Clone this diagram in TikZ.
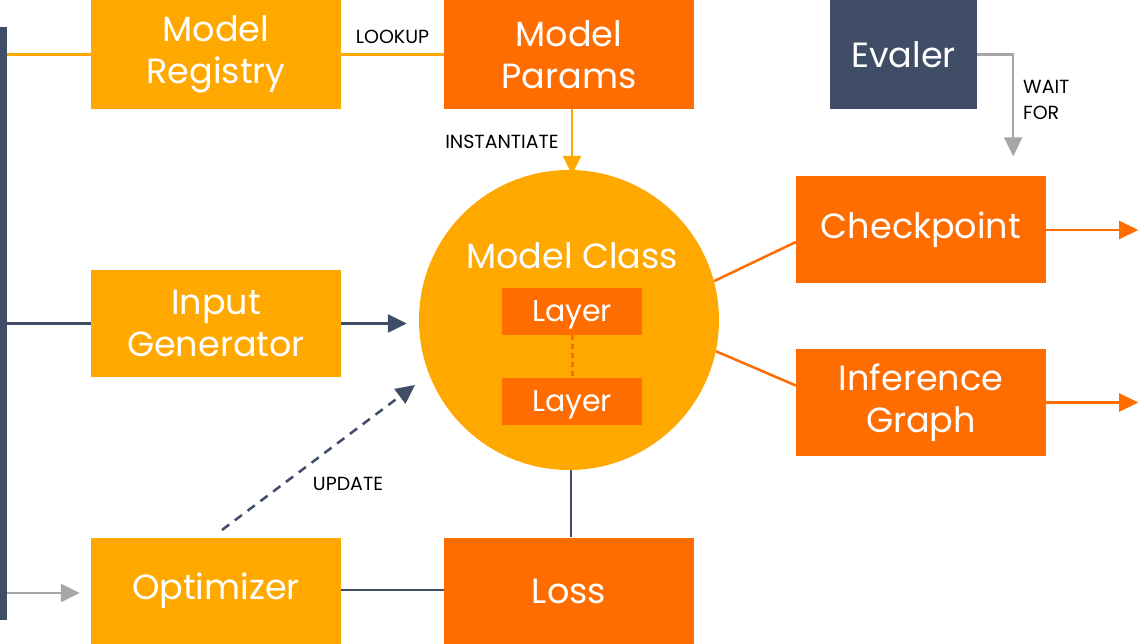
\documentclass[tikz,border=0pt]{standalone}
\usepackage{fontspec}
\setmainfont{Poppins}
\usetikzlibrary{arrows.meta}
\definecolor{ylw}{HTML}{FFA800}
\definecolor{org}{HTML}{FF6D00}
\definecolor{slate}{HTML}{3F4D66}
\definecolor{gry}{HTML}{A6A6A6}
\tikzset{
  box/.style={rectangle, minimum width=250pt, minimum height=107pt, inner sep=0pt, text=white, align=center, font=\fontsize{35}{42}\selectfont},
  ybox/.style={box, fill=ylw},
  obox/.style={box, fill=org},
  layerbox/.style={obox, minimum width=140pt, minimum height=47pt, font=\fontsize{30}{34}\selectfont, text depth=0pt},
  lbl/.style={font=\fontsize{19}{26}\selectfont, text=black, inner sep=0pt},
  conn/.style={line width=2.5pt},
  tip/.style={-{Triangle[length=19pt,width=18pt]}},
}
\begin{document}
\begin{tikzpicture}[x=1pt,y=-1pt]
\useasboundingbox (0,0) rectangle (1144,644);
\fill[white] (0,0) rectangle (1144,644);
% left bar
\node[fill=slate, minimum width=7pt, minimum height=593pt, inner sep=0pt, anchor=north west] (bar) at (0,27) {};
% boxes
\node[ybox, minimum height=109pt] (reg) at (216,54.5) {Model\\Registry};
\node[obox, minimum height=109pt] (par) at (569,54.5) {Model\\Params};
\node[box, fill=slate, minimum width=147pt, minimum height=109pt] (ev) at (903.5,54.5) {Evaler};
\node[ybox] (ig) at (216,323.5) {Input\\Generator};
\node[ybox] (opt) at (216,591) {Optimizer};
\node[obox] (loss) at (569,591) {Loss};
\node[obox] (ck) at (921,230) {Checkpoint};
\node[obox] (inf) at (921,402.5) {Inference\\Graph};
% model class
\node[circle, fill=ylw, minimum size=300pt, inner sep=0pt] (mc) at (569,320) {};
\node[text=white, font=\fontsize{35}{42}\selectfont, inner sep=0pt] (mct) at (572,256) {Model Class};
\node[layerbox] (l1) at (572,311.5) {Layer};
\node[layerbox] (l2) at (572,401.5) {Layer};
\draw[org, line width=3pt, dash pattern=on 5pt off 4pt] (l1.south) -- (l2.north);
% connectors
\draw[conn, ylw] (bar.east |- reg.west) -- (reg.west);
\draw[conn, slate] (bar.east |- ig.west) -- (ig.west);
\draw[conn, gry, tip] ([yshift=-2pt]bar.east |- opt.west) -- ([xshift=-11pt,yshift=-2pt]opt.west);
\draw[conn, ylw] (reg.east) -- (par.west) node[lbl, pos=0.5, above=10pt] (lk) {LOOKUP};
\draw[conn, ylw, tip] ([xshift=3pt]par.south) -- ([xshift=3pt,yshift=-5pt]mc.north);
\node[lbl] (inst) at (502,142) {INSTANTIATE};
\draw[conn, slate, tip] (ig.east) -- ([xshift=-12pt]ig.east -| mc.west);
\coordinate (u1) at (222,530);
\coordinate (u2) at (415,385);
\draw[conn, slate, dash pattern=on 9pt off 7pt, -{Triangle[length=19pt,width=18pt]}] (u1) -- (u2);
\node[lbl] (upd) at (348,484) {UPDATE};
\draw[conn, slate] ([yshift=1pt]opt.east) -- ([yshift=1pt]loss.west);
\draw[conn, slate] ([xshift=2pt]loss.north) -- ([xshift=2pt]mc.south);
\draw[conn, org] (mc.15.6) -- ([yshift=-12pt]ck.west);
\draw[conn, org] (mc.-12.3) -- ([yshift=17pt]inf.west);
\draw[conn, org, tip] (ck.east) -- ++(92,0) coordinate (ckout);
\draw[conn, org, tip] (inf.east) -- ++(92,0) coordinate (infout);
\draw[conn, gry, tip] (ev.east) -| ([xshift=-33pt,yshift=20pt]ck.north east);
\node[lbl, align=left, anchor=west] (wf) at (1023,100) {WAIT\\FOR};
\end{tikzpicture}
\end{document}
